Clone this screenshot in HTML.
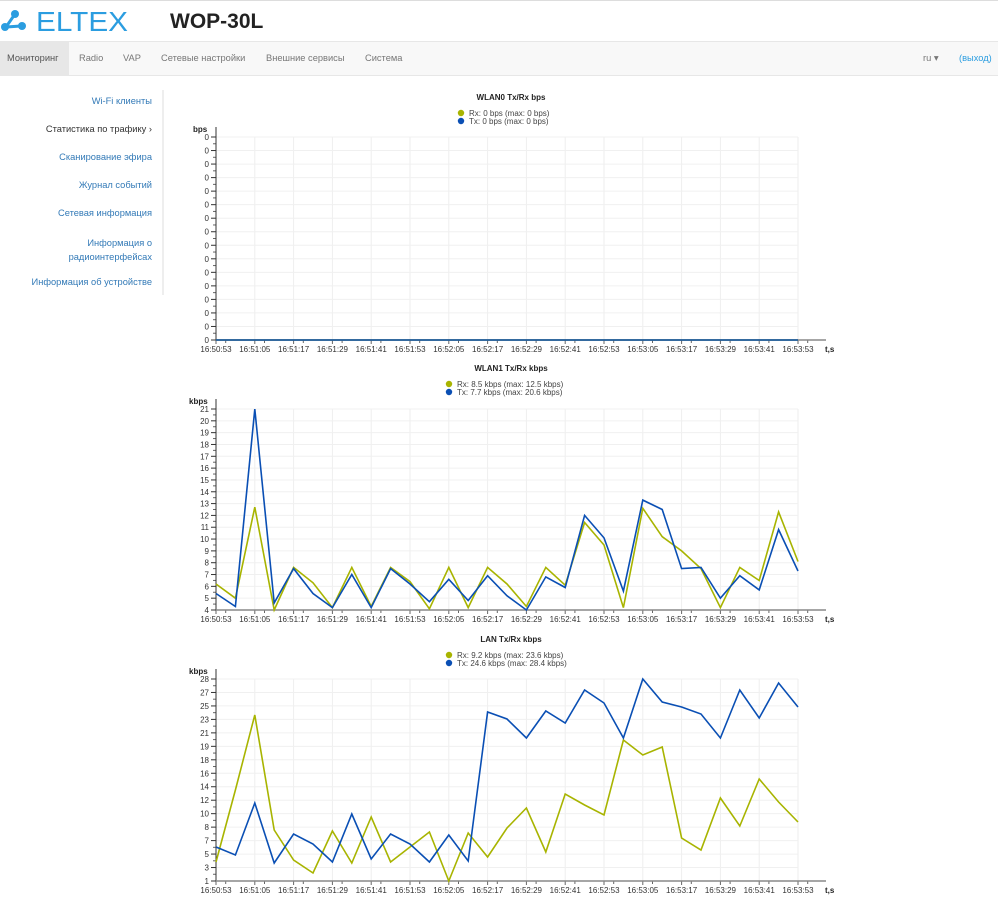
<!DOCTYPE html>
<html><head><meta charset="utf-8"><style>
body{margin:0;width:998px;height:903px;overflow:hidden;background:#fff;font-family:"Liberation Sans",sans-serif;position:relative}
.a{position:absolute;white-space:nowrap}
.nav{position:absolute;left:0;top:41px;width:998px;height:33px;background:#f8f8f8;border-top:1px solid #e7e7e7;border-bottom:1px solid #e7e7e7}
.nav span{position:absolute;top:11px;font-size:9.3px;color:#777}
.side{position:absolute;right:846px;font-size:9.3px;color:#337ab7;text-align:right}
svg text{font-family:"Liberation Sans",sans-serif}
</style></head><body>
<div style="position:absolute;left:0;top:0;width:998px;height:1px;background:#ddd"></div>
<svg class="a" style="left:0;top:0" width="140" height="40">
<path d="M15 14 L6 27 L21 26" stroke="#2b9de0" stroke-width="3" fill="none"/>
<circle cx="15" cy="14" r="4" fill="#2b9de0"/><circle cx="5" cy="27" r="4" fill="#2b9de0"/><circle cx="22" cy="26" r="4" fill="#2b9de0"/>
<text x="36" y="31" font-size="28" fill="#2b9de0" textLength="92" lengthAdjust="spacingAndGlyphs">ELTEX</text></svg>
<div class="a" style="left:170px;top:10px;font-size:21px;font-weight:bold;color:#222">WOP-30L</div>
<div class="nav">
<div style="position:absolute;left:0;top:0;width:69px;height:33px;background:#e7e7e7"></div>
<span style="left:7px;color:#555">Мониторинг</span><span style="left:79px">Radio</span><span style="left:123px">VAP</span><span style="left:161px">Сетевые настройки</span><span style="left:266px">Внешние сервисы</span><span style="left:365px">Система</span>
<span style="left:923px">ru ▾</span><span style="left:959px;color:#2b9de0">(выход)</span></div>
<div style="position:absolute;left:162px;top:90px;width:2px;height:205px;background:#eee"></div>
<div class="side" style="top:96px">Wi-Fi клиенты</div>
<div class="side" style="top:124px;color:#333">Статистика по трафику ›</div>
<div class="side" style="top:152px">Сканирование эфира</div>
<div class="side" style="top:180px">Журнал событий</div>
<div class="side" style="top:208px">Сетевая информация</div>
<div class="side" style="top:236px;line-height:14px">Информация о<br>радиоинтерфейсах</div>
<div class="side" style="top:277px">Информация об устройстве</div>
<svg id="s" class="a" style="left:0;top:0" width="998" height="903"></svg>
<script>
var X=["16:50:53","16:51:05","16:51:17","16:51:29","16:51:41","16:51:53","16:52:05","16:52:17","16:52:29","16:52:41","16:52:53","16:53:05","16:53:17","16:53:29","16:53:41","16:53:53"];
var h="";
function px(i){return 216+19.4*i}
function chart(top,bot,labs,unit,title,rx,tx,ry,ty,lx,ly){
 var n=labs.length,st=(bot-top)/(n-1);
 for(var k=0;k<16;k++){var x=px(2*k);h+='<line x1="'+x+'" y1="'+top+'" x2="'+x+'" y2="'+bot+'" stroke="#eee"/>';
  h+='<line x1="'+x+'" y1="'+bot+'" x2="'+x+'" y2="'+(bot+4)+'" stroke="#666"/>';
  h+='<line x1="'+(x+9.7)+'" y1="'+bot+'" x2="'+(x+9.7)+'" y2="'+(bot+3)+'" stroke="#666"/>';
  h+='<text x="'+x+'" y="'+(bot+12)+'" font-size="8" fill="#333" text-anchor="middle">'+X[k]+'</text>';}
 for(var j=0;j<n;j++){var y=top+st*j;h+='<line x1="216" y1="'+y+'" x2="798" y2="'+y+'" stroke="#f0f0f0"/>';
  h+='<line x1="211" y1="'+y+'" x2="216" y2="'+y+'" stroke="#333"/>';
  if(j<n-1)h+='<line x1="213" y1="'+(y+st/2)+'" x2="216" y2="'+(y+st/2)+'" stroke="#666"/>';
  h+='<text x="209" y="'+(y+3)+'" font-size="8" fill="#333" text-anchor="end">'+labs[j]+'</text>';}
 h+='<line x1="216" y1="'+(top-10)+'" x2="216" y2="'+bot+'" stroke="#333"/>';
 h+='<line x1="216" y1="'+bot+'" x2="826" y2="'+bot+'" stroke="#888" stroke-width="1.5"/>';
 h+='<text x="825" y="'+(bot+12)+'" font-size="8" font-weight="bold" fill="#222">t,s</text>';
 h+='<text x="'+(unit=="bps"?193:189)+'" y="'+(top-5)+'" font-size="8" font-weight="bold" fill="#222">'+unit+'</text>';
 h+='<text x="511" y="'+(ly-13)+'" font-size="8" font-weight="bold" fill="#222" text-anchor="middle">'+title+'</text>';
 h+='<circle cx="'+lx+'" cy="'+ly+'" r="3.2" fill="#a8b400"/><circle cx="'+lx+'" cy="'+(ly+8)+'" r="3.2" fill="#0a4fb4"/>';
 h+='<text x="'+(lx+8)+'" y="'+(ly+3)+'" font-size="8" fill="#444">'+rx+'</text><text x="'+(lx+8)+'" y="'+(ly+11)+'" font-size="8" fill="#444">'+tx+'</text>';
 function pl(a,c){var p=a.map(function(v,i){return px(i).toFixed(1)+','+v.toFixed(1)}).join(' ');h+='<polyline points="'+p+'" fill="none" stroke="'+c+'" stroke-width="1.6"/>';}
 pl(ry,"#a8b400");pl(ty,"#0a4fb4");
}
var z=[];for(var i=0;i<31;i++)z.push(340);
var L0=[];for(i=0;i<16;i++)L0.push("0");
chart(137,340,L0,"bps","WLAN0 Tx/Rx bps","Rx: 0 bps (max: 0 bps)","Tx: 0 bps (max: 0 bps)",z,z,461,113);
var rx=[6.2,5,12.7,4,7.6,6.3,4.2,7.6,4.3,7.6,6.4,4.1,7.6,4.2,7.6,6.2,4.3,7.6,6.1,11.4,9.5,4.2,12.6,10.2,9.0,7.5,4.2,7.6,6.5,12.3,8.1];
var tx=[5.4,4.3,21,4.6,7.5,5.4,4.2,7,4.2,7.5,6.2,4.7,6.6,4.8,6.9,5.2,4,6.8,5.9,12,10.1,5.6,13.3,12.5,7.5,7.6,5,6.9,5.7,10.8,7.3];
function m(v){return 610-(v-4)*11.82}
var L1=[];for(i=21;i>=4;i--)L1.push(i);
chart(409,610,L1,"kbps","WLAN1 Tx/Rx kbps","Rx: 8.5 kbps (max: 12.5 kbps)","Tx: 7.7 kbps (max: 20.6 kbps)",rx.map(m),tx.map(m),449,384);
var r2=[862,790,715,830,860,873,831,863,817,862,847,832,881,833,857,828,808,852,794,805,815,740,755,747,838,850,798,826,779,802,822];
var t2=[847,855,803,863,834,844,862,814,859,834,844,862,835,861,712,719,738,711,723,690,703,738,679,702,707,714,738,690,718,683,707];
chart(679,881,[28,27,25,23,21,19,18,16,14,12,10,8,7,5,3,1],"kbps","LAN Tx/Rx kbps","Rx: 9.2 kbps (max: 23.6 kbps)","Tx: 24.6 kbps (max: 28.4 kbps)",r2,t2,449,655);
document.getElementById("s").innerHTML=h;
</script>
</body></html>
